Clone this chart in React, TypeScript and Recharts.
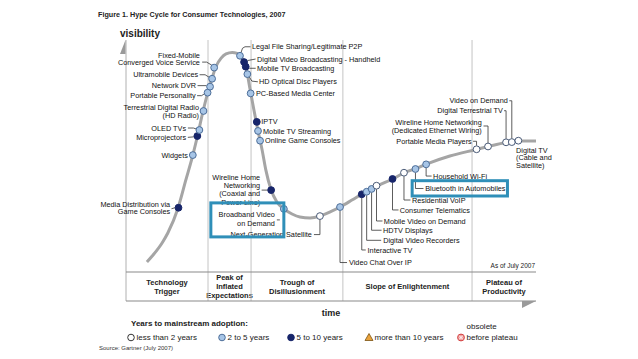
import { ComposedChart, Line, Scatter, XAxis, YAxis, ReferenceLine, ReferenceArea } from "recharts"

// hype curve: time 0-100, visibility 0-100 (band below 0)
const curvePoints = [
  { t: 5.1, v: 4.3 }, { t: 6.6, v: 7.3 }, { t: 8.8, v: 12.5 }, { t: 10.2, v: 16.8 },
  { t: 12.7, v: 27.6 }, { t: 14.6, v: 39.7 }, { t: 16.3, v: 50.4 }, { t: 17.6, v: 59.9 },
  { t: 18.8, v: 69.4 }, { t: 20.0, v: 77.6 }, { t: 21.0, v: 83.6 }, { t: 22.0, v: 88.8 },
  { t: 23.2, v: 92.2 }, { t: 24.4, v: 94.0 }, { t: 25.9, v: 94.6 }, { t: 27.1, v: 94.2 },
  { t: 28.0, v: 92.7 }, { t: 28.8, v: 90.5 }, { t: 29.5, v: 86.2 }, { t: 30.2, v: 79.3 },
  { t: 31.2, v: 69.8 }, { t: 32.2, v: 60.8 }, { t: 33.2, v: 52.6 }, { t: 34.1, v: 44.0 },
  { t: 35.4, v: 35.3 }, { t: 36.8, v: 30.2 }, { t: 38.5, v: 27.2 }, { t: 40.5, v: 25.0 },
  { t: 42.4, v: 23.7 }, { t: 44.9, v: 23.3 }, { t: 47.3, v: 24.1 }, { t: 49.8, v: 25.9 },
  { t: 52.2, v: 28.0 }, { t: 55.1, v: 31.0 }, { t: 58.0, v: 34.1 }, { t: 61.5, v: 37.3 },
  { t: 65.1, v: 40.1 }, { t: 68.0, v: 42.9 }, { t: 70.7, v: 44.6 }, { t: 73.4, v: 46.6 },
  { t: 79.0, v: 50.0 }, { t: 85.4, v: 52.8 }, { t: 88.8, v: 54.3 }, { t: 92.7, v: 55.8 },
  { t: 95.6, v: 56.5 }, { t: 100, v: 56.5 },
]

// years to mainstream adoption: lt2 | 2to5 | 5to10
const techs = [
  { name: "Media Distribution via Game Consoles", t: 12.8, v: 27.7, years: "5to10" },
  { name: "Widgets", t: 16.3, v: 50.4, years: "2to5" },
  { name: "Microprojectors", t: 17.4, v: 58.6, years: "5to10" },
  { name: "OLED TVs", t: 17.9, v: 61.2, years: "2to5" },
  { name: "Terrestrial Digital Radio (HD Radio)", t: 18.9, v: 69.4, years: "2to5" },
  { name: "Portable Personality", t: 19.9, v: 77.3, years: "2to5" },
  { name: "Network DVR", t: 20.5, v: 79.9, years: "2to5" },
  { name: "Ultramobile Devices", t: 21.0, v: 83.3, years: "2to5" },
  { name: "Fixed-Mobile Converged Voice Service", t: 21.5, v: 88.1, years: "2to5" },
  { name: "Legal File Sharing/Legitimate P2P", t: 27.8, v: 93.2, years: "2to5" },
  { name: "Digital Video Broadcasting - Handheld", t: 28.8, v: 90.5, years: "5to10" },
  { name: "Mobile TV Broadcasting", t: 29.2, v: 88.5, years: "5to10" },
  { name: "HD Optical Disc Players", t: 29.6, v: 85.3, years: "2to5" },
  { name: "PC-Based Media Center", t: 30.4, v: 77.0, years: "2to5" },
  { name: "IPTV", t: 31.9, v: 64.7, years: "5to10" },
  { name: "Mobile TV Streaming", t: 32.2, v: 60.8, years: "2to5" },
  { name: "Online Game Consoles", t: 32.7, v: 56.6, years: "2to5" },
  { name: "Wireline Home Networking (Coaxial and Power Line)", t: 35.4, v: 35.3, years: "5to10" },
  { name: "Next-Generation Satellite", t: 47.3, v: 24.1, years: "lt2" },
  { name: "Broadband Video on Demand", t: 38.5, v: 27.2, years: "2to5" },
  { name: "Video Chat Over IP", t: 52.2, v: 28.0, years: "2to5" },
  { name: "Interactive TV", t: 57.5, v: 33.5, years: "5to10" },
  { name: "Digital Video Recorders", t: 58.7, v: 34.6, years: "2to5" },
  { name: "HDTV Displays", t: 59.9, v: 35.8, years: "2to5" },
  { name: "Mobile Video on Demand", t: 61.1, v: 37.2, years: "lt2" },
  { name: "Consumer Telematics", t: 65.0, v: 40.1, years: "5to10" },
  { name: "Residential VoIP", t: 67.8, v: 42.8, years: "lt2" },
  { name: "Bluetooth in Automobiles", t: 70.6, v: 44.4, years: "2to5" },
  { name: "Household Wi-Fi", t: 73.2, v: 46.4, years: "2to5" },
  { name: "Portable Media Players", t: 85.5, v: 52.9, years: "lt2" },
  { name: "Wireline Home Networking (Dedicated Ethernet Wiring)", t: 88.3, v: 54.1, years: "lt2" },
  { name: "Digital Terrestrial TV", t: 92.7, v: 55.9, years: "lt2" },
  { name: "Video on Demand", t: 94.1, v: 56.0, years: "lt2" },
  { name: "Digital TV (Cable and Satellite)", t: 95.7, v: 56.6, years: "lt2" },
]

const phaseBounds = [0, 20, 30.5, 52.9, 84.4, 100]
const phaseNames = [
  ["Technology", "Trigger"],
  ["Peak of", "Inflated", "Expectations"],
  ["Trough of", "Disillusionment"],
  ["Slope of Enlightenment"],
  ["Plateau of", "Productivity"],
]

const legendItems = [
  { years: "lt2", label: "less than 2 years" },
  { years: "2to5", label: "2 to 5 years" },
  { years: "5to10", label: "5 to 10 years" },
  { years: "gt10", label: "more than 10 years" },
  { years: "obsolete", label: "before plateau" },
]

// label placement, offsets in px from the dot
type Lay = {
  lines: string[]
  anchor: "start" | "end"
  dx: number
  dy: number
  lh?: number
  leader?: number[][]
  box?: number[]
}
const labelLayout: Record<string, Lay> = {
  "Media Distribution via Game Consoles": { lines: ["Media Distribution via", "Game Consoles"], anchor: "end", dx: -8.3, dy: -3.7, lh: 7.7, leader: [[-7, 1], [-3.5, 0]] },
  Widgets: { lines: ["Widgets"], anchor: "end", dx: -5, dy: 0 },
  Microprojectors: { lines: ["Microprojectors"], anchor: "end", dx: -11.3, dy: 1.3, leader: [[-9.5, 1.3], [-3.5, 0.8]] },
  "OLED TVs": { lines: ["OLED TVs"], anchor: "end", dx: -13.3, dy: -2, leader: [[-11.5, -2], [-6, -2], [-3, -1]] },
  "Terrestrial Digital Radio (HD Radio)": { lines: ["Terrestrial Digital Radio", "(HD Radio)"], anchor: "end", dx: -4.5, dy: -3.3, lh: 7.5 },
  "Portable Personality": { lines: ["Portable Personality"], anchor: "end", dx: -12, dy: 3, leader: [[-10.5, 3], [-6, 3], [-3, 1]] },
  "Network DVR": { lines: ["Network DVR"], anchor: "end", dx: -14, dy: -1, leader: [[-12.5, -1], [-3.5, -1]] },
  "Ultramobile Devices": { lines: ["Ultramobile Devices"], anchor: "end", dx: -14, dy: -4, leader: [[-12.5, -4], [-7, -4], [-3, -1.5]] },
  "Fixed-Mobile Converged Voice Service": { lines: ["Fixed-Mobile", "Converged Voice Service"], anchor: "end", dx: -14.3, dy: -12.7, lh: 7.6, leader: [[-12, -5.5], [-7.5, -5.5], [-2.5, -2.5]] },
  "Legal File Sharing/Legitimate P2P": { lines: ["Legal File Sharing/Legitimate P2P"], anchor: "start", dx: 12, dy: -9, leader: [[1, -3], [2.5, -7.5], [5, -9], [10.5, -9]] },
  "Digital Video Broadcasting - Handheld": { lines: ["Digital Video Broadcasting - Handheld"], anchor: "start", dx: 13, dy: -3, leader: [[3.5, -1.5], [11.5, -3]] },
  "Mobile TV Broadcasting": { lines: ["Mobile TV Broadcasting"], anchor: "start", dx: 11.3, dy: 1.6, leader: [[3.5, 1.6], [10, 1.6]] },
  "HD Optical Disc Players": { lines: ["HD Optical Disc Players"], anchor: "start", dx: 11.7, dy: 7.7, leader: [[2, 3], [4.5, 7], [10.5, 7.7]] },
  "PC-Based Media Center": { lines: ["PC-Based Media Center"], anchor: "start", dx: 5.3, dy: 0 },
  IPTV: { lines: ["IPTV"], anchor: "start", dx: 4.5, dy: 0 },
  "Mobile TV Streaming": { lines: ["Mobile TV Streaming"], anchor: "start", dx: 5, dy: 0 },
  "Online Game Consoles": { lines: ["Online Game Consoles"], anchor: "start", dx: 5, dy: 0 },
  "Wireline Home Networking (Coaxial and Power Line)": { lines: ["Wireline Home", "Networking", "(Coaxial and", "Power Line)"], anchor: "end", dx: -11, dy: -12.7, lh: 8.2, leader: [[-9.5, 0], [-3.5, 0]] },
  "Broadband Video on Demand": { lines: ["Broadband Video", "on Demand"], anchor: "end", dx: -9, dy: 6, lh: 8.3, leader: [[-7, 11], [-4, 11]], box: [-73, -6, 0, 28] },
  "Next-Generation Satellite": { lines: ["Next-Generation Satellite"], anchor: "end", dx: -8, dy: 18.5, leader: [[0, 3.5], [0, 18.5], [-6, 18.5]] },
  "Video Chat Over IP": { lines: ["Video Chat Over IP"], anchor: "start", dx: 9, dy: 55.5, leader: [[0, 3.5], [0, 55.5], [7, 55.5]] },
  "Interactive TV": { lines: ["Interactive TV"], anchor: "start", dx: 5.8, dy: 55.7, leader: [[0, 3.5], [0, 55.7], [4, 55.7]] },
  "Digital Video Recorders": { lines: ["Digital Video Recorders"], anchor: "start", dx: 16.5, dy: 48.6, leader: [[0, 3.5], [0, 48.6], [14.5, 48.6]] },
  "HDTV Displays": { lines: ["HDTV Displays"], anchor: "start", dx: 11.5, dy: 41.3, leader: [[0, 3.5], [0, 41.3], [10, 41.3]] },
  "Mobile Video on Demand": { lines: ["Mobile Video on Demand"], anchor: "start", dx: 7.3, dy: 35.3, leader: [[0, 3.5], [0, 35.3], [6, 35.3]] },
  "Consumer Telematics": { lines: ["Consumer Telematics"], anchor: "start", dx: 7.3, dy: 31, leader: [[0, 3.5], [0, 31], [6, 31]] },
  "Residential VoIP": { lines: ["Residential VoIP"], anchor: "start", dx: 8, dy: 27.3, leader: [[0, 3.5], [0, 27.3], [6.5, 27.3]] },
  "Bluetooth in Automobiles": { lines: ["Bluetooth in Automobiles"], anchor: "start", dx: 9.7, dy: 19.5, leader: [[0, 3.5], [0, 19.5], [8, 19.5]], box: [-3.3, 11.7, 92, 27] },
  "Household Wi-Fi": { lines: ["Household Wi-Fi"], anchor: "start", dx: 7, dy: 11.7, leader: [[0, 3.5], [0, 11.7], [5.5, 11.7]] },
  "Portable Media Players": { lines: ["Portable Media Players"], anchor: "end", dx: -4.8, dy: -8, leader: [[-3.5, -8], [0, -8], [0, -3.5]] },
  "Wireline Home Networking (Dedicated Ethernet Wiring)": { lines: ["Wireline Home Networking", "(Dedicated Ethernet Wiring)"], anchor: "end", dx: -6.3, dy: -24.2, lh: 7.7, leader: [[-4.5, -20.5], [0, -20.5], [0, -3.5]] },
  "Digital Terrestrial TV": { lines: ["Digital Terrestrial TV"], anchor: "end", dx: -3.3, dy: -31.6, leader: [[-2, -31.6], [0, -31.6], [0, -3.5]] },
  "Video on Demand": { lines: ["Video on Demand"], anchor: "end", dx: -4, dy: -41.3, leader: [[-2.5, -41.3], [0, -41.3], [0, -3.5]] },
  "Digital TV (Cable and Satellite)": { lines: ["Digital TV", "(Cable and", "Satellite)"], anchor: "start", dx: -2.3, dy: 9.3, lh: 7.5 },
}

const FONT = "'Liberation Sans', Arial, sans-serif"
const TEAL = "#2f8fb8"
const dotStyle: Record<string, { fill: string; stroke: string }> = {
  lt2: { fill: "#ffffff", stroke: "#4a5b78" },
  "2to5": { fill: "#a7c5e6", stroke: "#4d6e99" },
  "5to10": { fill: "#17256a", stroke: "#17256a" },
}

function TechLabel(props: any) {
  const { cx, cy, payload } = props
  const lay = labelLayout[payload?.name]
  if (!lay || cx == null) return <g />
  const lh = lay.lh ?? 8
  return (
    <g>
      {lay.leader && (
        <polyline
          points={lay.leader.map(([dx, dy]) => `${cx + dx},${cy + dy}`).join(" ")}
          fill="none"
          stroke="#333"
          strokeWidth={0.8}
        />
      )}
      <text textAnchor={lay.anchor} fontSize={7.3} fill="#111" fontFamily={FONT}>
        {lay.lines.map((l, i) => (
          <tspan key={i} x={cx + lay.dx} y={cy + lay.dy + i * lh + 2.6}>
            {l}
          </tspan>
        ))}
      </text>
    </g>
  )
}

function TechBox(props: any) {
  const { cx, cy, payload } = props
  const lay = labelLayout[payload?.name]
  if (!lay || !lay.box || cx == null) return <g />
  const [x0, y0, x1, y1] = lay.box
  return <rect x={cx + x0} y={cy + y0} width={x1 - x0} height={y1 - y0} fill="none" stroke={TEAL} strokeWidth={3} />
}

function TechDot(props: any) {
  const { cx, cy, payload } = props
  if (cx == null) return <g />
  const s = dotStyle[payload.years]
  return <circle cx={cx} cy={cy} r={3.4} fill={s.fill} stroke={s.stroke} strokeWidth={1} />
}

function phaseLabel(lines: string[]) {
  return (props: any) => {
    const { x, y, width, height } = props.viewBox
    const lh = 9
    const top = y + height / 2 - ((lines.length - 1) * lh) / 2
    return (
      <text textAnchor="middle" fontSize={7.5} fontWeight="bold" fill="#222" fontFamily={FONT}>
        {lines.map((l, i) => (
          <tspan key={i} x={x + width / 2} y={top + i * lh + 2.7}>
            {l}
          </tspan>
        ))}
      </text>
    )
  }
}

function LegendSymbol({ years, x, y }: { years: string; x: number; y: number }) {
  if (years === "gt10")
    return <polygon points={`${x - 4},${y + 3} ${x + 4},${y + 3} ${x},${y - 4}`} fill="#e9a23b" stroke="#7a5212" strokeWidth={0.8} />
  if (years === "obsolete")
    return (
      <g>
        <circle cx={x} cy={y} r={3.4} fill="#f2a3a3" stroke="#d23b3b" strokeWidth={1} />
        <path d={`M${x - 1.8},${y - 1.8}L${x + 1.8},${y + 1.8}M${x + 1.8},${y - 1.8}L${x - 1.8},${y + 1.8}`} stroke="#fff" strokeWidth={1} />
      </g>
    )
  const s = years === "lt2" ? { fill: "#fff", stroke: "#333" } : dotStyle[years]
  return <circle cx={x} cy={y} r={3.3} fill={s.fill} stroke={s.stroke} strokeWidth={1} />
}

const legendX = [131, 222, 291, 369, 461]

export default function App() {
  return (
    <div style={{ position: "absolute", left: 0, top: 0, width: 638, height: 359, background: "#fff" }}>
      <ComposedChart width={638} height={359} margin={{ top: 40, right: 102, bottom: 58, left: 126 }}>
        <XAxis type="number" dataKey="t" domain={[0, 100]} hide />
        <YAxis type="number" dataKey="v" domain={[-12.5, 100]} hide />
        {phaseBounds.slice(1, -1).map((b) => (
          <ReferenceLine key={b} x={b} stroke="#c4c4c4" strokeWidth={1} />
        ))}
        <ReferenceLine x={0} stroke="#b0b0b0" strokeWidth={1} />
        <ReferenceLine y={0} stroke="#8a8a8a" strokeWidth={1.2} />
        <ReferenceLine y={-12.5} stroke="#8a8a8a" strokeWidth={1.2} />
        {phaseNames.map((lines, i) => (
          <ReferenceArea
            key={i}
            x1={phaseBounds[i]}
            x2={phaseBounds[i + 1]}
            y1={-12.5}
            y2={0}
            fill="none"
            fillOpacity={0}
            strokeOpacity={0}
            label={{ content: phaseLabel(lines) } as any}
          />
        ))}
        <Line data={curvePoints} dataKey="v" type="monotone" dot={false} stroke="#a5a5a5" strokeWidth={3} isAnimationActive={false} legendType="none" />
        <Scatter data={techs} dataKey="v" shape={TechLabel} isAnimationActive={false} legendType="none" />
        <Scatter data={techs} dataKey="v" shape={TechDot} isAnimationActive={false} legendType="none" />
        <Scatter data={techs} dataKey="v" shape={TechBox} isAnimationActive={false} legendType="none" />
      </ComposedChart>
      <svg width={638} height={359} style={{ position: "absolute", left: 0, top: 0, pointerEvents: "none" }} fontFamily={FONT}>
        <text x={98} y={16.5} fontSize={7.2} fontWeight="bold" fill="#222">
          Figure 1. Hype Cycle for Consumer Technologies, 2007
        </text>
        <text x={120} y={36.5} fontSize={10} fontWeight="bold" fill="#222">
          visibility
        </text>
        <polygon points="125.5,40 125.5,54 120,54" fill="#9a9a9a" />
        <polygon points="522,301 536,301 522,308" fill="#9a9a9a" />
        <text x={535} y={267.5} fontSize={6.5} textAnchor="end" fill="#222">
          As of July 2007
        </text>
        <text x={331} y={316} fontSize={9} fontWeight="bold" textAnchor="middle" fill="#222">
          time
        </text>
        <text x={131} y={325.5} fontSize={8} fontWeight="bold" fill="#222">
          Years to mainstream adoption:
        </text>
        {legendItems.map((it, i) => (
          <g key={it.years}>
            <LegendSymbol years={it.years} x={legendX[i]} y={337.5} />
            <text x={legendX[i] + 5.5} y={340.3} fontSize={8} fill="#222">
              {it.label}
            </text>
          </g>
        ))}
        <text x={466.5} y={328.5} fontSize={8} fill="#222">
          obsolete
        </text>
        <text x={99} y={350} fontSize={6} fill="#333">
          Source: Gartner (July 2007)
        </text>
      </svg>
    </div>
  )
}
